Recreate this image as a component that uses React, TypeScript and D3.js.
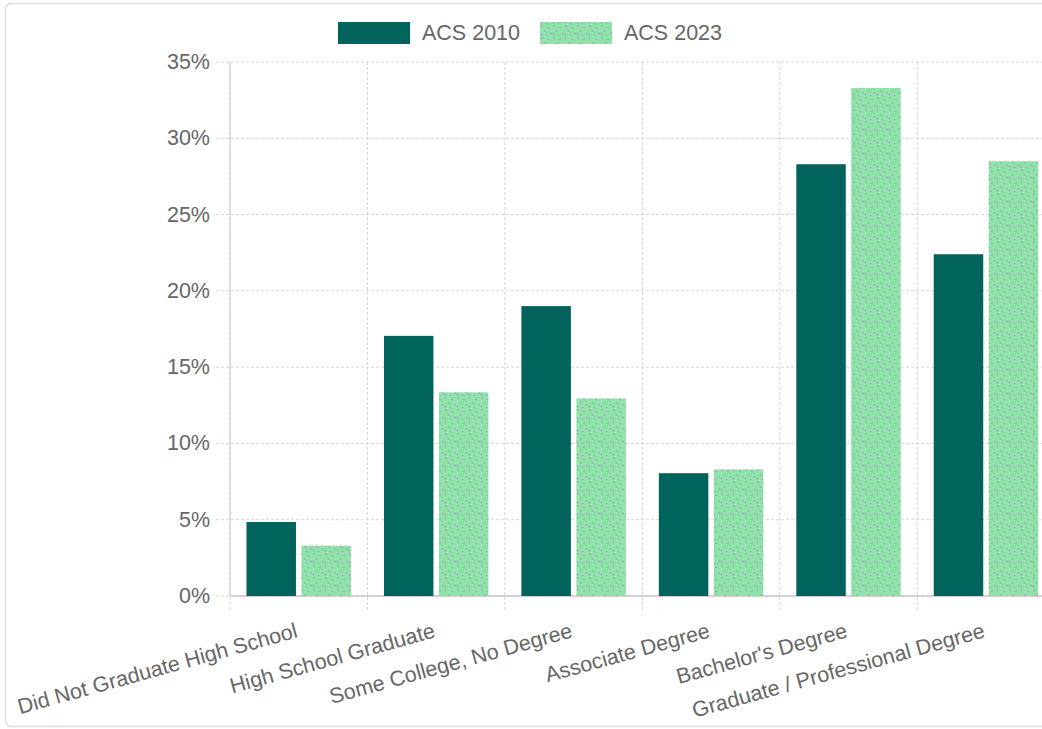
import React, { useRef, useEffect } from 'react';
import * as d3 from 'd3';

// Chart data
const categories = [
  'Did Not Graduate High School',
  'High School Graduate',
  'Some College, No Degree',
  'Associate Degree',
  "Bachelor's Degree",
  'Graduate / Professional Degree',
];
const seriesNames = ['ACS 2010', 'ACS 2023'];
const acs2010 = [4.85, 17.05, 19.0, 8.05, 28.3, 22.4];
const acs2023 = [3.3, 13.35, 12.95, 8.3, 33.3, 28.5];
const yTicks = [0, 5, 10, 15, 20, 25, 30, 35];

const FONT = '"Liberation Sans", Arial, Helvetica, sans-serif';

const App: React.FC = () => {
  const ref = useRef<SVGSVGElement>(null);

  useEffect(() => {
    document.body.style.margin = '0';
    const svg = d3.select(ref.current);
    svg.selectAll('*').remove();

    const left = 230;
    const bottom = 596;
    const top = 62;
    const step = 137.45;
    const right = left + step * categories.length;

    // dotted pattern for the 2023 bars
    const defs = svg.append('defs');
    const pat = defs.append('pattern')
      .attr('id', 'dots')
      .attr('patternUnits', 'userSpaceOnUse')
      .attr('width', 12).attr('height', 12);
    pat.append('rect').attr('width', 12).attr('height', 12).attr('fill', '#8fe3a9');
    [[2, 2], [8, 3.5], [5, 7], [11, 9], [1.5, 10.5], [6.5, 11.5]].forEach(([cx, cy]) => {
      pat.append('circle').attr('cx', cx).attr('cy', cy).attr('r', 0.85).attr('fill', '#9c9ac2');
    });

    // border
    svg.append('rect')
      .attr('x', 5.5).attr('y', 3.5).attr('width', 1100).attr('height', 723)
      .attr('rx', 6).attr('fill', 'none').attr('stroke', '#dcdcdc').attr('stroke-width', 1.5);

    const x0 = d3.scaleBand<string>().domain(categories).range([left, right]);
    const x1 = d3.scaleBand<string>().domain(seriesNames)
      .range([x0.bandwidth() * 0.1, x0.bandwidth() * 0.9])
      .paddingInner(0.1).paddingOuter(0.05);
    const y = d3.scaleLinear().domain([0, 35]).range([bottom, top]);

    const grid = svg.append('g');
    // horizontal grid + ticks
    yTicks.forEach(t => {
      grid.append('line')
        .attr('x1', left - 14).attr('x2', right)
        .attr('y1', y(t)).attr('y2', y(t))
        .attr('stroke', '#d6d2da').attr('stroke-dasharray', '3,2');
      svg.append('text')
        .attr('x', left - 20).attr('y', y(t))
        .attr('text-anchor', 'end').attr('dominant-baseline', 'central')
        .attr('font-family', FONT).attr('font-size', 21.5).attr('fill', '#666')
        .text(`${t}%`);
    });
    // vertical grid
    const bounds = categories.map(c => x0(c) as number).concat([right]);
    bounds.forEach(b => {
      grid.append('line')
        .attr('x1', b).attr('x2', b)
        .attr('y1', top).attr('y2', bottom + 15)
        .attr('stroke', '#d6d2da').attr('stroke-dasharray', '3,2');
    });

    // axis lines
    svg.append('line').attr('x1', left).attr('x2', left).attr('y1', top).attr('y2', bottom)
      .attr('stroke', '#c8c4cc');
    svg.append('line').attr('x1', left).attr('x2', right).attr('y1', bottom).attr('y2', bottom)
      .attr('stroke', '#c8c4cc').attr('stroke-width', 1.5);

    // bars
    const series = [
      { name: seriesNames[0], values: acs2010, fill: '#00645c' },
      { name: seriesNames[1], values: acs2023, fill: 'url(#dots)' },
    ];
    series.forEach(s => {
      svg.append('g').selectAll('rect')
        .data(s.values)
        .join('rect')
        .attr('x', (_, i) => (x0(categories[i]) as number) + (x1(s.name) as number))
        .attr('y', d => y(d))
        .attr('width', x1.bandwidth())
        .attr('height', d => bottom - y(d))
        .attr('fill', s.fill);
    });

    // x labels
    categories.forEach(c => {
      const cx = (x0(c) as number) + x0.bandwidth() / 2;
      svg.append('text')
        .attr('transform', `translate(${cx},637) rotate(-15.5)`)
        .attr('text-anchor', 'end')
        .attr('font-family', FONT).attr('font-size', 21.5).attr('fill', '#666')
        .text(c);
    });

    // legend
    const legendItems = [
      { name: seriesNames[0], fill: '#00645c', x: 338 },
      { name: seriesNames[1], fill: 'url(#dots)', x: 540 },
    ];
    legendItems.forEach(l => {
      svg.append('rect').attr('x', l.x).attr('y', 22).attr('width', 72).attr('height', 22)
        .attr('fill', l.fill);
      svg.append('text').attr('x', l.x + 84).attr('y', 33)
        .attr('dominant-baseline', 'central')
        .attr('font-family', FONT).attr('font-size', 21.5).attr('fill', '#666')
        .text(l.name);
    });
  }, []);

  return <svg ref={ref} width={1042} height={729} style={{ display: 'block' }} />;
};

export default App;
